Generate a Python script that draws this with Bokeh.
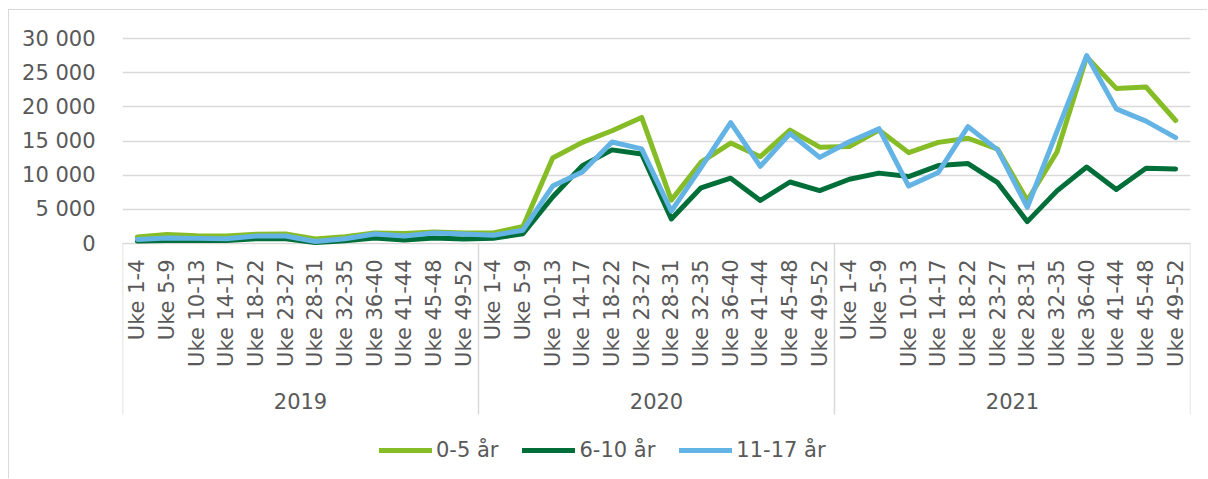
from math import pi

from bokeh.core.properties import value
from bokeh.embed import file_html
from bokeh.models import (ColumnDataSource, FactorRange, FixedTicker, Legend,
                          LegendItem, Range1d)
from bokeh.plotting import figure
from bokeh.resources import INLINE

# ---- data -------------------------------------------------------------
years = ["2019", "2020", "2021"]
weeks = ["Uke 1-4", "Uke 5-9", "Uke 10-13", "Uke 14-17", "Uke 18-22",
         "Uke 23-27", "Uke 28-31", "Uke 32-35", "Uke 36-40", "Uke 41-44",
         "Uke 45-48", "Uke 49-52"]

age_0_5 = [950, 1300, 1150, 1100, 1350, 1400, 650, 1000, 1550, 1450, 1700, 1550,
           1550, 2500, 12500, 14800, 16500, 18450, 6350, 11900, 14700, 12700, 16600, 14100,
           14200, 16600, 13300, 14800, 15400, 13800, 6300, 13400, 27300, 22700, 22900, 18000]
age_6_10 = [350, 450, 450, 450, 700, 700, 150, 400, 800, 500, 800, 650,
            780, 1420, 6800, 11400, 13700, 13100, 3600, 8150, 9550, 6300, 9000, 7750,
            9400, 10300, 9800, 11400, 11700, 8900, 3200, 7700, 11200, 7900, 11000, 10900]
age_11_17 = [600, 800, 750, 700, 1100, 1100, 300, 700, 1400, 1100, 1550, 1400,
             1200, 1950, 8400, 10450, 14850, 13850, 4750, 11100, 17700, 11300, 16100, 12600,
             14900, 16800, 8400, 10400, 17100, 13700, 5300, 16400, 27500, 19700, 17900, 15500]

series_names = ["0-5 år", "6-10 år", "11-17 år"]
series_colors = ["#86BC25", "#006E38", "#63B4E4"]
y_ticks = [0, 5000, 10000, 15000, 20000, 25000, 30000]

# ---- geometry (screen pixels on the canvas) ---------------------------
W, H = 1199, 469
FRAME_LEFT, FRAME_RIGHT, FRAME_TOP = 113, 1181, 20
ZERO_PX, TOP_TICK_PX = 233, 28          # where 0 and 30 000 sit
PX_PER_UNIT = (ZERO_PX - TOP_TICK_PX) / y_ticks[-1]


def below_zero(px):
    """Data value lying `px` screen pixels under the zero line."""
    return -px / PX_PER_UNIT


TEXT_COLOR = "#595959"
GRID_COLOR = "#d9d9d9"
FONT = "DejaVu Sans"
FONT_SIZE = "21px"

factors = [(yr, wk) for yr in years for wk in weeks]

p = figure(
    width=W, height=H,
    x_range=FactorRange(factors=factors, factor_padding=0, group_padding=0,
                        range_padding=0),
    y_range=Range1d(below_zero(H - ZERO_PX),
                    y_ticks[-1] + (TOP_TICK_PX - FRAME_TOP) / PX_PER_UNIT),
    x_axis_location=None,
    output_backend="svg", toolbar_location=None,
    min_border_left=FRAME_LEFT, min_border_right=W - FRAME_RIGHT,
    min_border_top=FRAME_TOP, min_border_bottom=0,
    outline_line_color=None,
    margin=(9, 0, 0, 8),
)
p.styles = {"border-left": f"1px solid {GRID_COLOR}",
            "border-top": f"1px solid {GRID_COLOR}"}

# value axis
p.yaxis.ticker = FixedTicker(ticks=y_ticks)
p.yaxis.major_label_overrides = {t: f"{t:,}".replace(",", " ") for t in y_ticks}
p.yaxis.axis_line_color = None
p.yaxis.major_tick_line_color = None
p.yaxis.minor_tick_line_color = None
p.yaxis.major_label_standoff = 21
p.yaxis.major_label_text_font = FONT
p.yaxis.major_label_text_font_size = FONT_SIZE
p.yaxis.major_label_text_color = TEXT_COLOR
p.yaxis.major_label_text_font_style = "normal"

p.xgrid.visible = False
p.ygrid.ticker = FixedTicker(ticks=y_ticks)
p.ygrid.grid_line_color = GRID_COLOR
p.ygrid.grid_line_width = 1.5

# category axis: group separators, week labels, year labels
bounds = [(yr, weeks[0], -0.5) for yr in years] + [(years[-1], weeks[-1], 0.5)]
sep_src = ColumnDataSource(dict(x0=bounds, x1=bounds,
                                y0=[0] * len(bounds),
                                y1=[below_zero(171)] * len(bounds)))
p.segment("x0", "y0", "x1", "y1", source=sep_src,
          line_color=GRID_COLOR, line_width=1.5)

week_src = ColumnDataSource(dict(x=factors, y=[below_zero(16)] * len(factors),
                                 text=[wk for _, wk in factors]))
p.text("x", "y", text="text", source=week_src, angle=pi / 2,
       text_align="right", text_baseline="middle",
       text_font=value(FONT), text_font_size=FONT_SIZE, text_color=TEXT_COLOR)

year_src = ColumnDataSource(dict(x=years, y=[below_zero(157)] * len(years),
                                 text=years))
p.text("x", "y", text="text", source=year_src,
       text_align="center", text_baseline="middle",
       text_font=value(FONT), text_font_size=FONT_SIZE, text_color=TEXT_COLOR)

# series lines
items = []
for name, color, vals in zip(series_names, series_colors,
                             [age_0_5, age_6_10, age_11_17]):
    src = ColumnDataSource(dict(x=factors, y=vals))
    r = p.line("x", "y", source=src, line_color=color, line_width=5,
               line_join="round", line_cap="round")
    items.append(LegendItem(label=name, renderers=[r]))

legend = Legend(items=items, orientation="horizontal", location=(257, 17),
                padding=0, margin=0, spacing=24, label_standoff=4,
                glyph_width=53, glyph_height=20,
                border_line_color=None, background_fill_alpha=0,
                label_text_font=FONT, label_text_font_size=FONT_SIZE,
                label_text_color=TEXT_COLOR)
p.add_layout(legend)

open("out.html", "w").write(file_html(p, INLINE))
